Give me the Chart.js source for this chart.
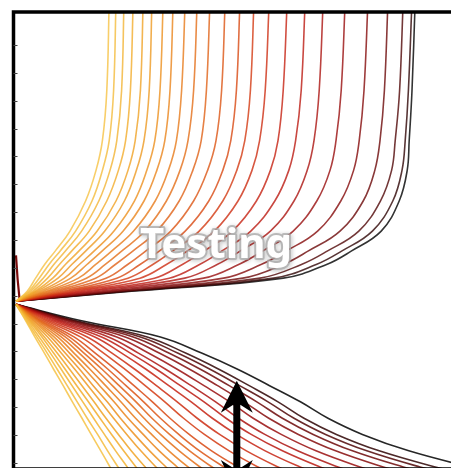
<!DOCTYPE html>
<html>
<head>
<meta charset="utf-8">
<script src="https://cdn.jsdelivr.net/npm/chart.js@4.4.0/dist/chart.umd.min.js"></script>
<style>
  html, body { margin: 0; padding: 0; background: #fff; overflow: hidden; }
  #wrap { position: absolute; left: 0; top: 0; width: 470px; height: 470px; }
</style>
</head>
<body>
<div id="wrap"><canvas id="c"></canvas></div>
<script>
// y levels shared by the rising family (one x list per curve below)
const upperY = [0, 0.36, 0.83, 1.33, 1.8, 2.52, 3.6, 4.7, 5.77, 7.57, 10.8];
const upperX = [
  [0, 0.28, 0.49, 0.72, 0.98, 1.35, 1.74, 2.0, 2.16, 2.27, 2.33],
  [0, 0.32, 0.58, 0.83, 1.1, 1.49, 1.9, 2.16, 2.33, 2.44, 2.5],
  [0, 0.36, 0.68, 0.95, 1.23, 1.64, 2.07, 2.35, 2.52, 2.64, 2.7],
  [0, 0.42, 0.79, 1.09, 1.39, 1.83, 2.27, 2.56, 2.74, 2.86, 2.93],
  [0, 0.48, 0.92, 1.24, 1.57, 2.03, 2.5, 2.8, 2.98, 3.11, 3.18],
  [0, 0.53, 1.05, 1.4, 1.74, 2.22, 2.71, 3.01, 3.2, 3.33, 3.4],
  [0, 0.6, 1.21, 1.59, 1.95, 2.45, 2.96, 3.27, 3.47, 3.6, 3.68],
  [0, 0.68, 1.37, 1.78, 2.15, 2.68, 3.2, 3.52, 3.72, 3.85, 3.93],
  [0, 0.76, 1.56, 2.0, 2.39, 2.94, 3.48, 3.81, 4.01, 4.14, 4.23],
  [0, 0.84, 1.76, 2.24, 2.64, 3.22, 3.76, 4.1, 4.3, 4.44, 4.53],
  [0, 0.94, 1.99, 2.49, 2.92, 3.52, 4.08, 4.42, 4.63, 4.76, 4.85],
  [0, 1.05, 2.25, 2.8, 3.24, 3.87, 4.44, 4.79, 5.0, 5.14, 5.23],
  [0, 1.17, 2.52, 3.11, 3.58, 4.23, 4.82, 5.17, 5.37, 5.51, 5.6],
  [0, 1.29, 2.8, 3.43, 3.91, 4.58, 5.17, 5.52, 5.72, 5.86, 5.95],
  [0, 1.42, 3.1, 3.77, 4.28, 4.96, 5.55, 5.9, 6.09, 6.23, 6.33],
  [0, 1.57, 3.46, 4.17, 4.7, 5.41, 6.01, 6.36, 6.55, 6.68, 6.78],
  [0, 1.72, 3.83, 4.6, 5.14, 5.87, 6.47, 6.82, 6.99, 7.13, 7.23],
  [0, 1.89, 4.22, 5.04, 5.6, 6.36, 6.95, 7.28, 7.45, 7.58, 7.68],
  [0, 2.08, 4.69, 5.58, 6.16, 6.93, 7.52, 7.85, 8.0, 8.13, 8.23],
  [0, 2.29, 5.19, 6.14, 6.75, 7.54, 8.12, 8.44, 8.58, 8.7, 8.8],
  [0, 2.49, 5.67, 6.69, 7.3, 8.1, 8.68, 8.97, 9.1, 9.21, 9.3],
  [0, 2.66, 6.1, 7.15, 7.78, 8.57, 9.11, 9.39, 9.48, 9.59, 9.68],
  [0, 2.8, 6.44, 7.52, 8.14, 8.91, 9.42, 9.65, 9.73, 9.81, 9.9],
  [0, 2.89, 6.68, 7.78, 8.38, 9.13, 9.58, 9.78, 9.83, 9.9, 9.98]
];

// y levels shared by the falling family
const lowerY = [-0.11, -0.69, -1.28, -1.86, -2.44, -3.03, -3.61, -4.2, -4.78, -5.37, -5.95, -6.3];
const lowerX = [
  [0, 0.24, 0.47, 0.71, 0.94, 1.18, 1.41, 1.65, 1.88, 2.12, 2.35, 2.49],
  [0, 0.26, 0.52, 0.78, 1.03, 1.28, 1.53, 1.78, 2.04, 2.29, 2.55, 2.71],
  [0, 0.29, 0.58, 0.86, 1.13, 1.4, 1.67, 1.94, 2.21, 2.49, 2.78, 2.95],
  [0, 0.32, 0.65, 0.94, 1.23, 1.52, 1.81, 2.1, 2.39, 2.69, 3.0, 3.2],
  [0, 0.35, 0.71, 1.03, 1.34, 1.65, 1.95, 2.25, 2.56, 2.88, 3.23, 3.44],
  [0, 0.38, 0.79, 1.13, 1.47, 1.8, 2.12, 2.44, 2.77, 3.12, 3.5, 3.74],
  [0, 0.42, 0.87, 1.23, 1.59, 1.93, 2.28, 2.61, 2.96, 3.34, 3.75, 4.01],
  [0, 0.45, 0.95, 1.34, 1.72, 2.09, 2.45, 2.8, 3.18, 3.58, 4.03, 4.32],
  [0, 0.49, 1.04, 1.45, 1.85, 2.24, 2.62, 2.99, 3.39, 3.82, 4.3, 4.62],
  [0, 0.54, 1.13, 1.58, 2.0, 2.41, 2.81, 3.2, 3.61, 4.08, 4.6, 4.95],
  [0, 0.58, 1.23, 1.7, 2.15, 2.58, 3.0, 3.4, 3.84, 4.34, 4.9, 5.28],
  [0, 0.62, 1.33, 1.83, 2.3, 2.75, 3.19, 3.61, 4.07, 4.59, 5.2, 5.61],
  [0, 0.68, 1.45, 1.98, 2.48, 2.95, 3.41, 3.85, 4.33, 4.89, 5.55, 6.0],
  [0, 0.75, 1.61, 2.19, 2.72, 3.23, 3.72, 4.19, 4.71, 5.33, 6.05, 6.55],
  [0, 0.82, 1.78, 2.4, 2.97, 3.51, 4.03, 4.53, 5.09, 5.76, 6.55, 7.1],
  [0, 0.9, 1.97, 2.64, 3.25, 3.82, 4.38, 4.91, 5.51, 6.23, 7.1, 7.71],
  [0, 0.98, 2.14, 2.86, 3.51, 4.11, 4.7, 5.25, 5.88, 6.66, 7.6, 8.27],
  [0, 1.06, 2.31, 3.06, 3.74, 4.38, 4.99, 5.56, 6.22, 7.04, 8.05, 8.77],
  [0, 1.14, 2.52, 3.31, 4.03, 4.7, 5.34, 5.93, 6.63, 7.5, 8.6, 9.39],
  [0, 1.24, 2.73, 3.58, 4.34, 5.04, 5.7, 6.32, 7.06, 7.99, 9.18, 10.03],
  [0, 1.32, 2.93, 3.82, 4.61, 5.33, 6.02, 6.66, 7.43, 8.41, 9.68, 10.59],
  [0, 1.4, 3.11, 4.04, 4.85, 5.59, 6.3, 6.95, 7.74, 8.77, 10.1, 11.08],
  [0, 1.47, 3.28, 4.24, 5.07, 5.83, 6.55, 7.2, 8.01, 9.08, 10.48, 11.51],
  [0, 1.61, 3.61, 4.64, 5.54, 6.34, 7.11, 7.8, 8.66, 9.82, 11.35, 12.49]
];

// little spike at the start
const spikeX = [0, 0.04, 0.09];
const spikeY = [1.65, 0.8, 0.05];

const lineColors = [
  '#f6c244', '#f4bb3c', '#f3b434', '#f2ac2c', '#f0a326', '#ee9a22',
  '#ec901e', '#ea851c', '#e77a1a', '#e46e18', '#e06216', '#dc5514',
  '#d84812', '#d33a12', '#cd2d12', '#c62212', '#bb1a12', '#ab1410',
  '#990e0e', '#850a0a', '#6c0808', '#500606', '#2e0404', '#000000'
];

const yTicks = [-5.8, -4.8, -3.8, -2.8, -1.8, -0.8, 0.2, 1.2, 2.2, 3.2, 4.2, 5.2, 6.2, 7.2, 8.2, 9.2];

const label = 'Testing';
const labelAt = [5.0, 1.55];
const arrowX = 5.52;
const arrowY = [-2.85, -6.85];

function alpha(hex, a) {
  const n = parseInt(hex.slice(1), 16);
  return `rgba(${n >> 16}, ${(n >> 8) & 255}, ${n & 255}, ${a})`;
}

const datasets = [];
upperX.forEach((xs, i) => {
  datasets.push({
    data: xs.map((x, k) => ({ x: x, y: upperY[k] })),
    borderColor: alpha(lineColors[i], 0.8),
    borderWidth: 1.6
  });
});
lowerX.forEach((xs, i) => {
  datasets.push({
    data: xs.map((x, k) => ({ x: x, y: lowerY[k] })),
    borderColor: alpha(lineColors[i], 0.85),
    borderWidth: 1.6
  });
});
datasets.push({
  data: spikeX.map((x, k) => ({ x: x, y: spikeY[k] })),
  borderColor: '#7a0a0a',
  borderWidth: 2.2,
  tension: 0
});

const decor = {
  id: 'decor',
  afterDatasetsDraw(chart) {
    const { ctx, chartArea: a, scales: { x, y } } = chart;
    ctx.save();

    // arrow
    const ax = x.getPixelForValue(arrowX);
    const yTop = y.getPixelForValue(arrowY[0]);
    const yBot = y.getPixelForValue(arrowY[1]);
    const hl = 32, hw = 16, notch = 8, sw = 3.5;
    ctx.fillStyle = '#000';
    ctx.beginPath();
    ctx.moveTo(ax, yTop);
    ctx.lineTo(ax + hw, yTop + hl);
    ctx.lineTo(ax + sw, yTop + hl - notch);
    ctx.lineTo(ax + sw, yBot - hl + notch);
    ctx.lineTo(ax + hw, yBot - hl);
    ctx.lineTo(ax, yBot);
    ctx.lineTo(ax - hw, yBot - hl);
    ctx.lineTo(ax - sw, yBot - hl + notch);
    ctx.lineTo(ax - sw, yTop + hl - notch);
    ctx.lineTo(ax - hw, yTop + hl);
    ctx.closePath();
    ctx.fill();

    // frame: left, top and bottom edges (right edge is outside the window)
    ctx.strokeStyle = '#000';
    ctx.lineWidth = 3.5;
    ctx.beginPath();
    ctx.moveTo(a.right + 10, a.top);
    ctx.lineTo(a.left, a.top);
    ctx.lineTo(a.left, a.bottom);
    ctx.lineTo(a.right + 10, a.bottom);
    ctx.stroke();

    // inward ticks on the left side
    ctx.lineWidth = 1;
    ctx.strokeStyle = '#444';
    yTicks.forEach(v => {
      const py = Math.round(y.getPixelForValue(v)) + 0.5;
      ctx.beginPath();
      ctx.moveTo(a.left, py);
      ctx.lineTo(a.left + 4, py);
      ctx.stroke();
    });

    // label with halo
    const tx = x.getPixelForValue(labelAt[0]);
    const ty = y.getPixelForValue(labelAt[1]);
    ctx.font = 'bold 42px "Noto Sans"';
    ctx.textAlign = 'center';
    ctx.textBaseline = 'alphabetic';
    ctx.lineJoin = 'round';
    ctx.shadowColor = 'rgba(0,0,0,0.3)';
    ctx.shadowBlur = 4;
    ctx.shadowOffsetX = 1;
    ctx.shadowOffsetY = 1;
    ctx.strokeStyle = 'rgba(170,170,170,0.75)';
    ctx.lineWidth = 4;
    ctx.strokeText(label, tx, ty);
    ctx.shadowColor = 'transparent';
    ctx.fillStyle = '#fff';
    ctx.fillText(label, tx, ty);
    ctx.restore();
  }
};

new Chart(document.getElementById('c'), {
  type: 'line',
  data: { datasets: datasets },
  options: {
    responsive: true,
    maintainAspectRatio: false,
    animation: false,
    devicePixelRatio: 1,
    layout: { padding: { left: 13.5, top: 12, right: 16, bottom: 1 } },
    elements: { point: { radius: 0 }, line: { tension: 0.4, fill: false } },
    plugins: { legend: { display: false }, tooltip: { enabled: false } },
    scales: {
      x: { type: 'linear', min: -0.0625, max: 10.95, display: false },
      y: { type: 'linear', min: -6.022, max: 10.386, display: false }
    }
  },
  plugins: [decor]
});
</script>
</body>
</html>
